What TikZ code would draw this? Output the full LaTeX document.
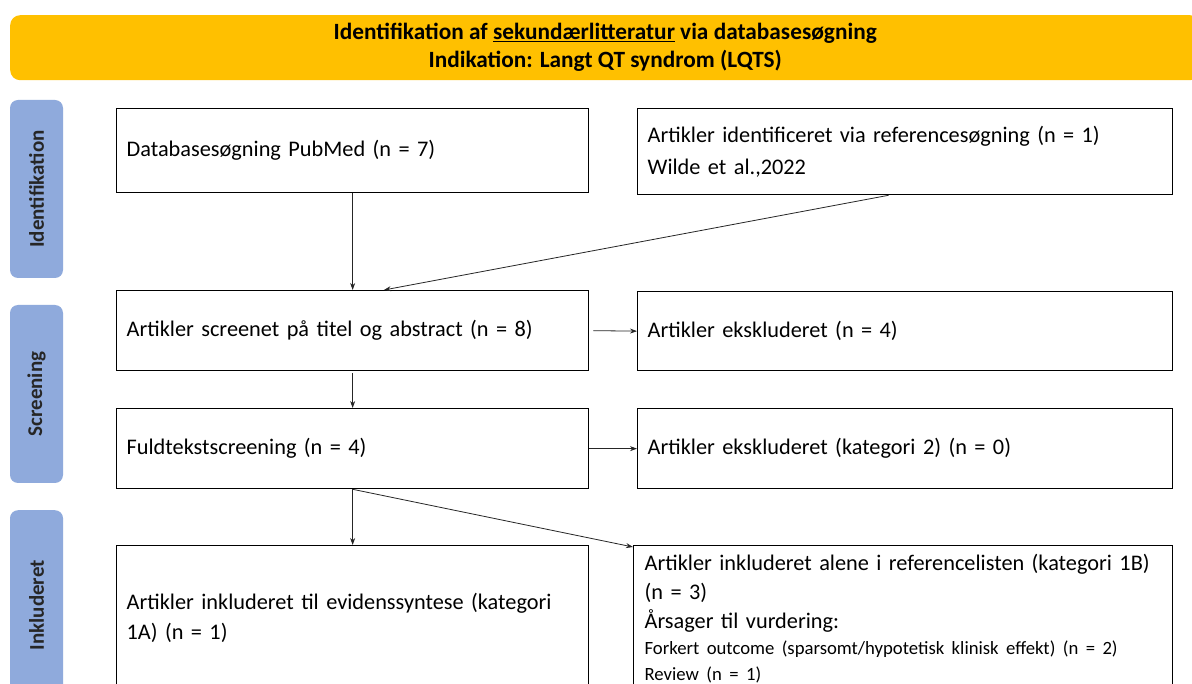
\documentclass[tikz,border=0pt]{standalone}
\usepackage{fontspec}
\setmainfont{Carlito}
\usetikzlibrary{arrows.meta,calc}
\definecolor{gold}{HTML}{FFC000}
\definecolor{sideblue}{HTML}{8FAADC}
\begin{document}
\begin{tikzpicture}[x=1pt,y=-1pt,
  box/.style={draw, line width=1.3pt, anchor=north west, inner xsep=10pt, inner ysep=0pt, align=left, font=\fontsize{22.3}{32}\selectfont},
  arr/.style={-{Stealth[length=7pt,width=5pt]}, line width=0.8pt, draw=black!85},
  side/.style={fill=sideblue, rounded corners=8pt, minimum width=53pt, minimum height=178pt, inner sep=0pt, font=\bfseries\fontsize{21}{23}\selectfont, text=black!85}]
\useasboundingbox (0,0) rectangle (1192,684);
\clip (0,0) rectangle (1192,684);
\fill[white] (0,0) rectangle (1192,684);
% header
\node[fill=gold, rounded corners=10pt, minimum width=1190pt, minimum height=65pt, anchor=north west, inner sep=0pt, font=\bfseries\fontsize{23.3}{28}\selectfont] (hdr) at (10,15)
  {\raisebox{3pt}{\begin{tabular}{@{}c@{}}Identifikation af \underline{sekundærlitteratur} via databasesøgning\\[0pt]Indikation: Langt QT syndrom (LQTS)\end{tabular}}};
% side labels
\node[side] (s1) at (36.5,189) {\rotatebox{90}{Identifikation}};
\node[side] (s2) at (36.5,394) {\rotatebox{90}{Screening}};
\node[side, minimum height=190pt, anchor=north] (s3) at (36.5,510) {\rotatebox{90}{Inkluderet}};
% boxes
\node[box, minimum height=84pt, text width=452pt] (b1) at (116,108) {Databasesøgning PubMed (n = 7)};
\node[box, minimum height=86pt, text width=515pt] (b2) at (637,108) {Artikler identificeret via referencesøgning (n = 1)\\Wilde et al.,2022};
\node[box, minimum height=80pt, text width=452pt] (b3) at (116,290) {Artikler screenet på titel og abstract (n = 8)};
\node[box, minimum height=79pt, text width=515pt] (b4) at (637,291) {Artikler ekskluderet (n = 4)};
\node[box, minimum height=80pt, text width=452pt] (b5) at (116,408) {Fuldtekstscreening (n = 4)};
\node[box, minimum height=80pt, text width=515pt] (b6) at (637,408) {Artikler ekskluderet (kategori 2) (n = 0)};
\node[box, minimum height=145pt, text width=452pt, font=\fontsize{22.3}{30}\selectfont] (b7) at (116,545) {Artikler inkluderet til evidenssyntese (kategori\\1A) (n = 1)};
\node[box, minimum height=145pt, text width=517pt, inner xsep=11pt] (b8) at (633,545)
  {{\fontsize{22.3}{29}\selectfont Artikler inkluderet alene i referencelisten (kategori 1B)\\(n = 3)\\Årsager til vurdering:\par}%
   {\fontsize{18.7}{26}\selectfont Forkert outcome (sparsomt/hypotetisk klinisk effekt) (n = 2)\\Review (n = 1)\par}};
% arrows
\draw[arr] (b1.south) -- (b3.north);
\draw[arr] ($(b2.south west)!0.469!(b2.south east)$) -- ($(b3.north west)!0.566!(b3.north east)$);
\draw[arr] ([xshift=4pt]b3.east) -- (b4.west);
\draw[arr] ([yshift=-2pt]b3.south) -- (b5.north);
\draw[arr] (b5.east) -- (b6.west);
\draw[arr] (b5.south) -- (b7.north);
\draw[arr] (b5.south) -- ([yshift=-2pt]b8.north west);
\end{tikzpicture}
\end{document}
